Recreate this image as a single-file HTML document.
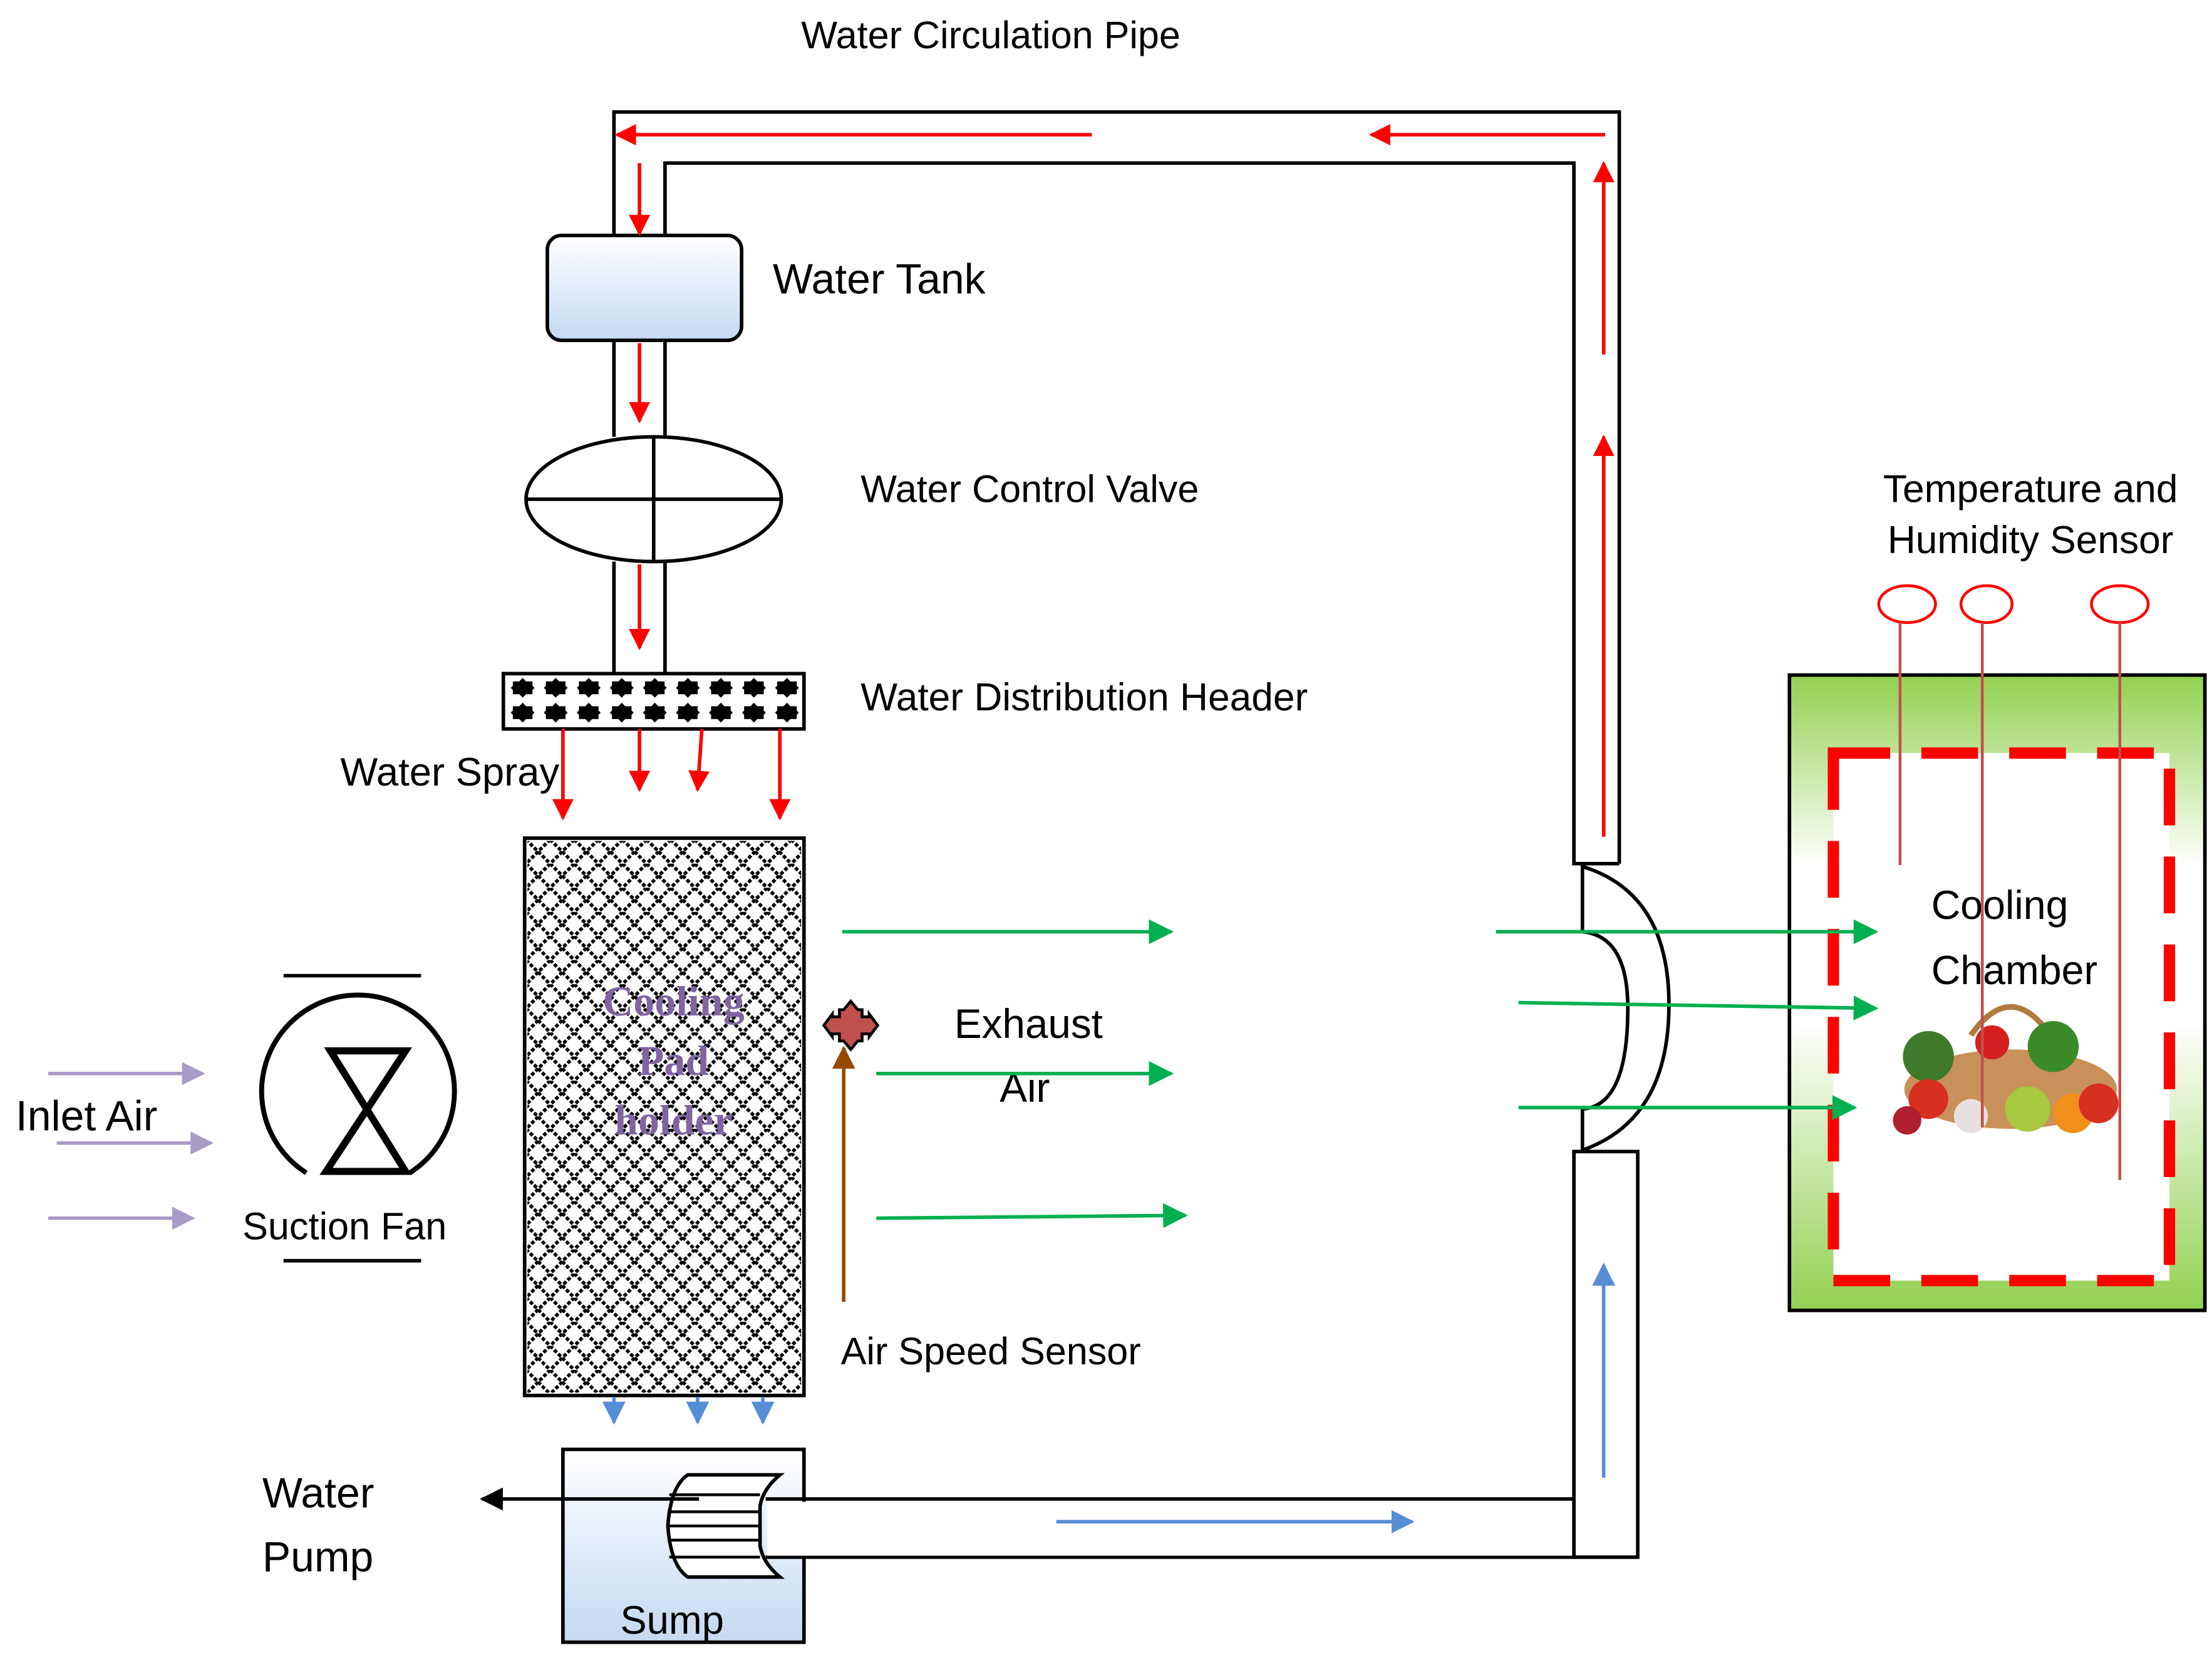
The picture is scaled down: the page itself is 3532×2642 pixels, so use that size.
<!DOCTYPE html>
<html><head><meta charset="utf-8"><style>html,body{margin:0;padding:0;background:#fff}svg{display:block}text{font-family:"Liberation Sans",sans-serif;font-size:27px;fill:#000}</style></head>
<body>
<svg width="3532" height="2642" viewBox="0 0 1560 1167" preserveAspectRatio="none" xmlns="http://www.w3.org/2000/svg">
<defs>
<linearGradient id="blue" x1="0" y1="0" x2="0" y2="1"><stop offset="0" stop-color="#fff"/><stop offset="1" stop-color="#c5d9f1"/></linearGradient>
<linearGradient id="green" x1="0" y1="0" x2="0" y2="1"><stop offset="0" stop-color="#92d050"/><stop offset="0.3" stop-color="#fff"/><stop offset="0.55" stop-color="#fff"/><stop offset="1" stop-color="#92d050"/></linearGradient>
<pattern id="hdr" width="23.3" height="17.5" patternUnits="userSpaceOnUse" x="357" y="477"><path d="M11.6 1 L14 3.5 L18.5 3.5 L18.5 6.5 L20 8 L18.5 9.5 L18.5 12.5 L14 12.5 L11.6 15 L9.2 12.5 L4.7 12.5 L4.7 9.5 L3.2 8 L4.7 6.5 L4.7 3.5 L9.2 3.5 Z" fill="#000"/></pattern>
<pattern id="hatch" width="17" height="17" patternUnits="userSpaceOnUse" x="371" y="592"><path d="M0 0 L17 17 M17 0 L0 17" stroke="#000" stroke-width="2.4" stroke-dasharray="2.6 1.4"/></pattern>
<marker id="ar" viewBox="0 0 10 10" refX="9" refY="5" markerWidth="6" markerHeight="6" orient="auto" markerUnits="strokeWidth"><path d="M0 0 L10 5 L0 10 z" fill="#f00"/></marker>
<marker id="ag" viewBox="0 0 10 10" refX="9" refY="5" markerWidth="7" markerHeight="7" orient="auto" markerUnits="strokeWidth"><path d="M0 0 L10 5 L0 10 z" fill="#00b050"/></marker>
<marker id="ab" viewBox="0 0 10 10" refX="9" refY="5" markerWidth="6.5" markerHeight="6.5" orient="auto" markerUnits="strokeWidth"><path d="M0 0 L10 5 L0 10 z" fill="#558ed5"/></marker>
<marker id="ap" viewBox="0 0 10 10" refX="9" refY="5" markerWidth="6.5" markerHeight="6.5" orient="auto" markerUnits="strokeWidth"><path d="M0 0 L10 5 L0 10 z" fill="#a99bc7"/></marker>
<marker id="ak" viewBox="0 0 10 10" refX="9" refY="5" markerWidth="6.5" markerHeight="6.5" orient="auto" markerUnits="strokeWidth"><path d="M0 0 L10 5 L0 10 z" fill="#000"/></marker>
<marker id="an" viewBox="0 0 10 10" refX="9" refY="5" markerWidth="6.5" markerHeight="6.5" orient="auto" markerUnits="strokeWidth"><path d="M0 0 L10 5 L0 10 z" fill="#974806"/></marker>
</defs>

<text x="565" y="34">Water Circulation Pipe</text>

<g fill="none" stroke="#000" stroke-width="2.5">
<path d="M433 166 L433 79 L1142 79 L1142 609"/>
<path d="M469 166 L469 115 L1110 115 L1110 609 L1142 609"/>
<path d="M433 240 V308 M469 240 V308 M433 396 V475 M469 396 V475"/>
</g>

<rect x="386" y="166" width="137" height="74" rx="10" fill="url(#blue)" stroke="#000" stroke-width="2.5"/>
<text x="545" y="207" style="font-size:30px">Water Tank</text>

<ellipse cx="461" cy="352" rx="90" ry="44" fill="#fff" stroke="#000" stroke-width="2.5"/>
<path d="M371 352 H551 M461 308 V396" stroke="#000" stroke-width="2.5"/>
<text x="607" y="354">Water Control Valve</text>

<rect x="355" y="475" width="212" height="39" fill="#fff" stroke="#000" stroke-width="2.5"/>
<rect x="357" y="477" width="208" height="35" fill="url(#hdr)"/>
<text x="607" y="501" style="font-size:27.5px">Water Distribution Header</text>
<text x="240" y="554" style="font-size:28px">Water Spray</text>

<g stroke="#f00" stroke-width="2.5" fill="none">
<line x1="770" y1="95" x2="435" y2="95" marker-end="url(#ar)"/>
<line x1="1132" y1="95" x2="967" y2="95" marker-end="url(#ar)"/>
<line x1="451" y1="115" x2="451" y2="165" marker-end="url(#ar)"/>
<line x1="451" y1="242" x2="451" y2="297" marker-end="url(#ar)"/>
<line x1="451" y1="398" x2="451" y2="457" marker-end="url(#ar)"/>
<line x1="1131" y1="590" x2="1131" y2="308" marker-end="url(#ar)"/>
<line x1="1131" y1="250" x2="1131" y2="115" marker-end="url(#ar)"/>
<line x1="397" y1="514" x2="397" y2="577" marker-end="url(#ar)"/>
<line x1="451" y1="514" x2="451" y2="557" marker-end="url(#ar)"/>
<line x1="495" y1="514" x2="492" y2="557" marker-end="url(#ar)"/>
<line x1="550" y1="514" x2="550" y2="577" marker-end="url(#ar)"/>
</g>

<rect x="370" y="591" width="197" height="393" fill="#fff" stroke="#000" stroke-width="2.5"/>
<rect x="372" y="593" width="193" height="389" fill="url(#hatch)"/>
<g text-anchor="middle">
<text x="475" y="716" style="font-family:'Liberation Serif',serif;font-weight:bold;font-size:30px;fill:#8064a2">Cooling</text>
<text x="475" y="758" style="font-family:'Liberation Serif',serif;font-weight:bold;font-size:30px;fill:#8064a2">Pad</text>
<text x="475" y="800" style="font-family:'Liberation Serif',serif;font-weight:bold;font-size:30px;fill:#8064a2">holder</text>
</g>

<line x1="595" y1="918" x2="595" y2="739" stroke="#974806" stroke-width="2.5" marker-end="url(#an)"/>
<path d="M600 706 L605 712 L608 712 L608 717 L613 717 L613 715 L619 723 L613 731 L613 729 L608 729 L608 734 L605 734 L600 740 L595 734 L592 734 L592 729 L587 729 L587 731 L581 723 L587 715 L587 717 L592 717 L592 712 L595 712 Z" fill="#c0504d" stroke="#000" stroke-width="2"/>
<text x="673" y="732" style="font-size:29px">Exhaust</text>
<text x="705" y="777" style="font-size:29px">Air</text>
<text x="593" y="962">Air Speed Sensor</text>

<g stroke="#00b050" stroke-width="2.5">
<line x1="594" y1="657" x2="826" y2="657" marker-end="url(#ag)"/>
<line x1="618" y1="757" x2="826" y2="757" marker-end="url(#ag)"/>
<line x1="618" y1="859" x2="836" y2="857" marker-end="url(#ag)"/>
</g>

<path d="M200 688 H297 M200 889 H297" stroke="#000" stroke-width="2.5"/>
<path d="M216 827 A68 68 0 1 1 289 827" fill="none" stroke="#000" stroke-width="3.5"/>
<path d="M233 741 L286 741 L230 826 L286 826 Z" fill="none" stroke="#000" stroke-width="5"/>
<text x="171" y="874">Suction Fan</text>
<text x="11" y="797" style="font-size:30px">Inlet Air</text>
<g stroke="#a99bc7" stroke-width="2.5">
<line x1="34" y1="757" x2="143" y2="757" marker-end="url(#ap)"/>
<line x1="40" y1="806" x2="149" y2="806" marker-end="url(#ap)"/>
<line x1="34" y1="859" x2="136" y2="859" marker-end="url(#ap)"/>
</g>

<g stroke="#558ed5" stroke-width="2.5">
<line x1="433" y1="985" x2="433" y2="1003" marker-end="url(#ab)"/>
<line x1="492" y1="985" x2="492" y2="1003" marker-end="url(#ab)"/>
<line x1="538" y1="985" x2="538" y2="1003" marker-end="url(#ab)"/>
</g>

<rect x="397" y="1022" width="170" height="136" fill="url(#blue)" stroke="#000" stroke-width="2.5"/>
<text x="474" y="1152" text-anchor="middle" style="font-size:28px">Sump</text>
<path d="M540 1057 H1110 M540 1098 H1155" stroke="#000" stroke-width="2.5"/>
<rect x="541" y="1059" width="568" height="38" fill="#fff"/>
<path d="M485 1040 H550 Q538 1050 536 1062 L536 1090 Q538 1102 550 1112 H485 Q473 1104 471 1076 Q473 1048 485 1040 Z" fill="#fff" stroke="#000" stroke-width="2.5"/>
<path d="M472 1054 H536 M471 1066 H536 M471 1076 H536 M471 1086 H536 M472 1098 H536" stroke="#000" stroke-width="2"/>
<line x1="493" y1="1057" x2="340" y2="1057" stroke="#000" stroke-width="2.5" marker-end="url(#ak)"/>
<text x="185" y="1063" style="font-size:30px">Water</text>
<text x="185" y="1108" style="font-size:30px">Pump</text>
<line x1="745" y1="1073" x2="996" y2="1073" stroke="#558ed5" stroke-width="2.5" marker-end="url(#ab)"/>

<rect x="1110" y="812" width="45" height="286" fill="#fff" stroke="#000" stroke-width="2.5"/>
<line x1="1131" y1="1042" x2="1131" y2="892" stroke="#558ed5" stroke-width="2.5" marker-end="url(#ab)"/>
<path d="M1116 611 Q1178 630 1177 711 Q1176 790 1116 811 L1116 782 Q1148 780 1148 711 Q1148 660 1116 657 Z" fill="#fff" stroke="#000" stroke-width="2.5"/>

<rect x="1262" y="476" width="293" height="448" fill="url(#green)" stroke="#000" stroke-width="2.5"/>
<rect x="1293" y="531" width="237" height="372" fill="#fff"/>
<rect x="1293" y="531" width="237" height="372" fill="none" stroke="#f00" stroke-width="8" stroke-dasharray="40 22"/>

<g>
<ellipse cx="1418" cy="768" rx="75" ry="28" fill="#c8915a"/>
<path d="M1390 730 Q1418 690 1446 730" fill="none" stroke="#b07a40" stroke-width="4"/>
<circle cx="1360" cy="745" r="18" fill="#3f7a2a"/>
<circle cx="1448" cy="738" r="18" fill="#3a8a2a"/>
<circle cx="1405" cy="735" r="12" fill="#d42020"/>
<circle cx="1360" cy="775" r="14" fill="#d83020"/>
<circle cx="1430" cy="782" r="16" fill="#a8c840"/>
<circle cx="1462" cy="785" r="14" fill="#f0901a"/>
<circle cx="1480" cy="778" r="14" fill="#d83020"/>
<circle cx="1390" cy="787" r="12" fill="#e8e0e0"/>
<circle cx="1345" cy="790" r="10" fill="#b02030"/>
</g>
<text x="1362" y="648" style="font-size:28.5px">Cooling</text>
<text x="1362" y="694" style="font-size:28.5px">Chamber</text>

<g stroke="#00b050" stroke-width="2.5">
<line x1="1055" y1="657" x2="1323" y2="657" marker-end="url(#ag)"/>
<line x1="1071" y1="707" x2="1323" y2="711" marker-end="url(#ag)"/>
<line x1="1071" y1="781" x2="1308" y2="781" marker-end="url(#ag)"/>
</g>

<g fill="none" stroke="#f00" stroke-width="2">
<ellipse cx="1345" cy="426" rx="20" ry="13"/>
<ellipse cx="1401" cy="426" rx="18" ry="13"/>
<ellipse cx="1495" cy="426" rx="20" ry="13"/>
</g>
<g stroke="#c0504d" stroke-width="2">
<line x1="1340" y1="439" x2="1340" y2="610"/>
<line x1="1398" y1="439" x2="1398" y2="795"/>
<line x1="1495" y1="439" x2="1495" y2="832"/>
</g>
<text x="1432" y="354" text-anchor="middle" style="font-size:27.5px">Temperature and</text>
<text x="1432" y="390" text-anchor="middle" style="font-size:27.5px">Humidity Sensor</text>
</svg>
</body></html>
